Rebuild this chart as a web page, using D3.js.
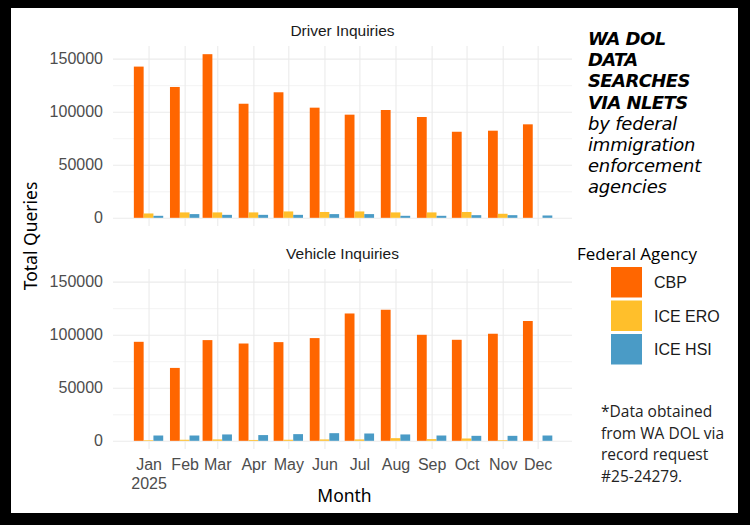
<!DOCTYPE html>
<html>
<head>
<meta charset="utf-8">
<script src="https://cdn.jsdelivr.net/npm/d3@7"></script>
<style>
  body { margin: 0; background: #000; }
  .grid line { stroke: #ebebeb; }
  .grid path { display: none; }
</style>
</head>
<body>
<div id="chart"></div>
<script>
// Datas (primeiro dia de cada mês)
const months = ["2025-01-01","2025-02-01","2025-03-01","2025-04-01","2025-05-01","2025-06-01",
                "2025-07-01","2025-08-01","2025-09-01","2025-10-01","2025-11-01","2025-12-01"];
const monthLabels = ["Jan","Feb","Mar","Apr","May","Jun","Jul","Aug","Sep","Oct","Nov","Dec"];
const agencies = ["CBP", "ICE ERO", "ICE HSI"];
const agencyColors = ["#ff6600", "#ffbf2b", "#4a9bc6"];

// Driver Inquiries
const driverCBP = [142500, 123300, 154200, 107500, 118300, 103800, 97200, 101600, 95000, 81100, 82100, 88100];
const driverERO = [4100, 5100, 5100, 5100, 6000, 5500, 6000, 5100, 5100, 5500, 3800, 0];
const driverHSI = [1900, 3500, 2800, 2800, 2800, 3500, 3500, 1900, 1900, 2500, 2500, 2200];

// Vehicle Inquiries
const vehicleCBP = [93300, 68700, 94900, 91700, 93000, 96800, 120000, 123500, 99900, 95200, 100900, 112900];
const vehicleERO = [600, 1000, 1300, 800, 1000, 1300, 1300, 2500, 1600, 2200, 600, 0];
const vehicleHSI = [5000, 5000, 6000, 5400, 6300, 7200, 6900, 6000, 5000, 4700, 4700, 5000];

const yMajor = [0, 50000, 100000, 150000];
const yMinor = [25000, 75000, 125000];

const titleBold = ["WA DOL", "DATA", "SEARCHES", "VIA NLETS"];
const titleItalic = ["by federal", "immigration", "enforcement", "agencies"];
const footnote = ["*Data obtained", "from WA DOL via", "record request", "#25-24279."];

const W = 750, H = 525;
const parse = d3.timeParse("%Y-%m-%d");
const dates = months.map(parse);

const panels = [
  { name: "Driver Inquiries", top: 46, series: [driverCBP, driverERO, driverHSI] },
  { name: "Vehicle Inquiries", top: 269, series: [vehicleCBP, vehicleERO, vehicleHSI] }
];
const left = 113, right = 572, ph = 180;

const svg = d3.select("#chart").append("svg")
  .attr("width", W).attr("height", H);

svg.append("rect").attr("width", W).attr("height", H).attr("fill", "#000");
svg.append("rect").attr("x", 11).attr("y", 8).attr("width", 727).attr("height", 505).attr("fill", "#fff");

const day = 864e5;
const x = d3.scaleTime()
  .domain([new Date(+dates[0] - 30.5 * day), new Date(+dates[11] + 29.5 * day)])
  .range([left, right]);

const maxV = d3.max(panels, p => d3.max(p.series, s => d3.max(s)));
const pad = maxV * 0.05;

const groupW = x(new Date(+dates[0] + 0.9 * 28 * day)) - x(dates[0]);
const bw = groupW / agencies.length;

panels.forEach((p, pi) => {
  const y = d3.scaleLinear().domain([-pad, maxV + pad]).range([p.top + ph, p.top]);
  const g = svg.append("g");

  // grades
  g.append("g").attr("class", "grid").attr("transform", `translate(${left},0)`)
    .call(d3.axisLeft(y).tickValues(yMinor).tickSize(-(right - left)).tickFormat(""))
    .selectAll("line").attr("stroke-width", 0.6);
  g.append("g").attr("class", "grid").attr("transform", `translate(${left},0)`)
    .call(d3.axisLeft(y).tickValues(yMajor).tickSize(-(right - left)).tickFormat(""))
    .selectAll("line").attr("stroke-width", 1.1);
  g.append("g").attr("class", "grid").attr("transform", `translate(0,${p.top + ph})`)
    .call(d3.axisBottom(x).tickValues(dates).tickSize(-ph).tickFormat(""))
    .selectAll("line").attr("stroke-width", 1.1);

  // barras
  agencies.forEach((a, ai) => {
    g.append("g").selectAll("rect")
      .data(p.series[ai])
      .enter().append("rect")
      .attr("x", (d, i) => x(dates[i]) - groupW / 2 + ai * bw)
      .attr("width", bw)
      .attr("y", d => y(Math.max(d, 0)))
      .attr("height", d => Math.abs(y(0) - y(d)))
      .attr("fill", agencyColors[ai]);
  });

  // eixo y
  const ya = g.append("g").attr("transform", `translate(${left},0)`)
    .call(d3.axisLeft(y).tickValues(yMajor).tickSize(0).tickPadding(10).tickFormat(d3.format("d")));
  ya.select(".domain").remove();
  ya.selectAll("text").attr("font-family", "Liberation Sans, Arial, sans-serif")
    .attr("font-size", 16).attr("fill", "#4d4d4d");

  // título do painel
  svg.append("text")
    .attr("x", (left + right) / 2).attr("y", p.top - 10)
    .attr("text-anchor", "middle")
    .attr("font-family", "Liberation Sans, Arial, sans-serif")
    .attr("font-size", 15.5).attr("fill", "#1a1a1a")
    .text(p.name);

  // eixo x só no painel de baixo
  if (pi === panels.length - 1) {
    const xa = g.append("g").attr("transform", `translate(0,${p.top + ph})`)
      .call(d3.axisBottom(x).tickValues(dates).tickSize(0).tickPadding(9.5)
        .tickFormat((d, i) => monthLabels[i]));
    xa.select(".domain").remove();
    xa.selectAll("text").attr("font-family", "Liberation Sans, Arial, sans-serif")
      .attr("font-size", 16).attr("fill", "#4d4d4d");
    xa.selectAll("text").filter((d, i) => i === 0)
      .append("tspan").attr("x", 0).attr("dy", "1.2em").text("2025");
  }
});

// rótulos dos eixos
svg.append("text")
  .attr("x", (left + right) / 2 + 2).attr("y", 502)
  .attr("text-anchor", "middle")
  .attr("font-family", "Noto Sans, sans-serif").attr("font-size", 17.5)
  .attr("fill", "#000").text("Month");

svg.append("text")
  .attr("transform", "translate(37,236) rotate(-90)")
  .attr("text-anchor", "middle")
  .attr("font-family", "Noto Sans, sans-serif").attr("font-size", 17.5)
  .attr("fill", "#000").text("Total Queries");

// título à direita
const title = svg.append("g").attr("font-family", "DejaVu Sans, sans-serif")
  .attr("font-style", "italic").attr("font-size", 18).attr("fill", "#000");
titleBold.forEach((t, i) => {
  title.append("text").attr("x", 588).attr("y", 45 + i * 21.2)
    .attr("font-weight", "bold").attr("letter-spacing", -0.6).text(t);
});
titleItalic.forEach((t, i) => {
  title.append("text").attr("x", 588).attr("y", 45 + (i + 4) * 21.2)
    .attr("letter-spacing", -0.2).text(t);
});

// legenda
svg.append("text").attr("x", 577).attr("y", 260)
  .attr("font-family", "Open Sans, sans-serif").attr("font-size", 17)
  .attr("fill", "#000").text("Federal Agency");

const leg = svg.append("g").selectAll("g")
  .data(agencies).enter().append("g")
  .attr("transform", (d, i) => `translate(611,${267 + i * 33.5})`);
leg.append("rect").attr("width", 31).attr("height", 30.5)
  .attr("fill", (d, i) => agencyColors[i]);
leg.append("text").attr("x", 43).attr("y", 21)
  .attr("font-family", "Liberation Sans, Arial, sans-serif").attr("font-size", 16)
  .attr("fill", "#1a1a1a").text(d => d);

// nota
footnote.forEach((t, i) => {
  svg.append("text").attr("x", 601).attr("y", 417 + i * 21.7)
    .attr("font-family", "Open Sans, sans-serif").attr("font-size", 15.5)
    .attr("fill", "#222").text(t);
});
</script>
</body>
</html>
